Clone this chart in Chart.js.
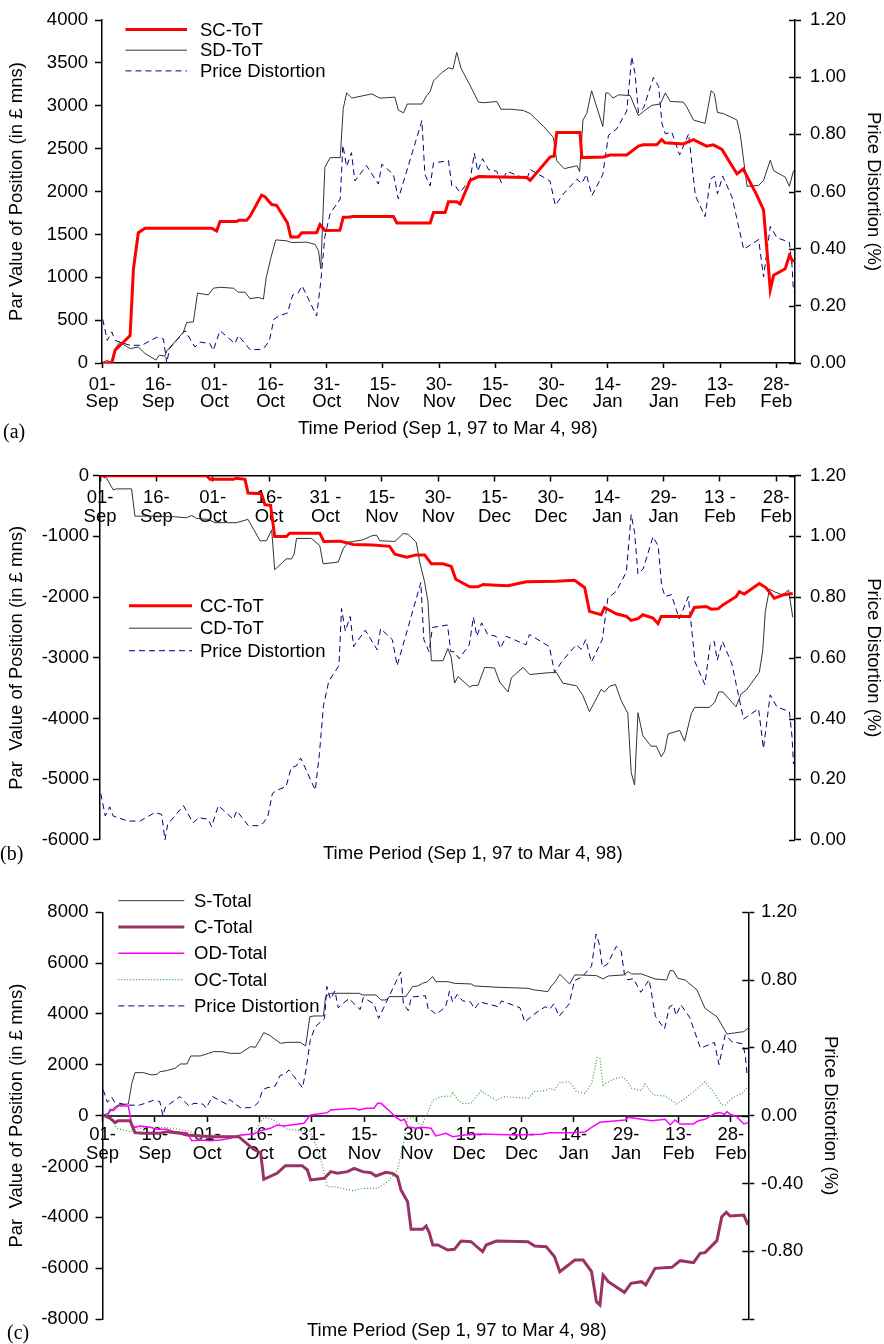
<!DOCTYPE html>
<html>
<head>
<meta charset="utf-8">
<script src="https://cdn.jsdelivr.net/npm/chart.js@4.4.0/dist/chart.umd.min.js"></script>
<style>
body { margin: 0; background: #fff; }
#wrap { position: relative; width: 884px; height: 1344px; font-family: 'Liberation Sans', Arial, sans-serif; }
canvas { position: absolute; left: 0; }
.t { position: absolute; font-size: 18.5px; line-height: 1; white-space: pre; }
.p { position: absolute; font-family: 'Liberation Serif', 'Times New Roman', serif; font-size: 20px; line-height: 1; }
</style>
</head>
<body>
<div id="wrap">
  <canvas id="chartA" width="884" height="420" style="top:0"></canvas>
  <canvas id="chartB" width="884" height="420" style="top:440px"></canvas>
  <canvas id="chartC" width="884" height="464" style="top:880px"></canvas>
  <div class="p" style="left:3px;top:421px">(a)</div>
  <div class="t" style="left:298px;top:419px">Time Period (Sep 1, 97 to Mar 4, 98)</div>
  <div class="p" style="left:0px;top:843px">(b)</div>
  <div class="t" style="left:323px;top:844px">Time Period (Sep 1, 97 to Mar 4, 98)</div>
  <div class="p" style="left:7px;top:1322px">(c)</div>
  <div class="t" style="left:307px;top:1321px">Time Period (Sep 1, 97 to Mar 4, 98)</div>
</div>
<script>
// x = day number, 0 = 01 Sep 97 ... 184 = 04 Mar 98
const tickDays = [0, 15, 30, 45, 60, 75, 90, 105, 120, 135, 150, 165, 180];
const tickLabelsA = [['01-','Sep'],['16-','Sep'],['01-','Oct'],['16-','Oct'],['31-','Oct'],['15-','Nov'],['30-','Nov'],
  ['15-','Dec'],['30-','Dec'],['14-','Jan'],['29-','Jan'],['13-','Feb'],['28-','Feb']];
const tickLabelsB = [['01-','Sep'],['16-','Sep'],['01-','Oct'],['16-','Oct'],['31 -','Oct'],['15-','Nov'],['30-','Nov'],
  ['15-','Dec'],['30-','Dec'],['14-','Jan'],['29-','Jan'],['13 -','Feb'],['28-','Feb']];
const tickLabelsC = tickLabelsA;

const leftTicksA = [0, 500, 1000, 1500, 2000, 2500, 3000, 3500, 4000];
const leftTicksB = [-6000, -5000, -4000, -3000, -2000, -1000, 0];
const leftTicksC = [-8000, -6000, -4000, -2000, 0, 2000, 4000, 6000, 8000];
const priceTicksAB = [0, 0.2, 0.4, 0.6, 0.8, 1.0, 1.2];
const priceTicksC = [-1.2, -0.8, -0.4, 0, 0.4, 0.8, 1.2];

// [day, %]
const priceDistortion = [[0.2,0.153],[1.4,0.079],[2.6,0.109],[3.5,0.079],[4.8,0.073],[7.5,0.062],[10.6,0.062],[14.6,0.090],
  [16.4,0.084],[17.3,0.0],[18,0.050],[19.9,0.079],[22.2,0.113],[24.8,0.056],[26.2,0.073],[28.8,0.068],[29.7,0.044],
  [31.5,0.113],[35.5,0.068],[36.4,0.096],[39.5,0.047],[42.2,0.047],[43.5,0.056],[44.7,0.079],[45.9,0.153],[47.1,0.164],
  [49.5,0.175],[50.9,0.238],[52.3,0.244],[53.4,0.270],[54.6,0.238],[57.3,0.164],[58.4,0.284],[59.5,0.443],[60.9,0.523],
  [63.6,0.574],[64.3,0.762],[65.3,0.688],[66.6,0.736],[67.5,0.637],[70.6,0.691],[73.8,0.626],[74.7,0.696],[77.8,0.660],
  [79.1,0.574],[85.4,0.848],[86.2,0.660],[87.6,0.620],[88.5,0.700],[92.5,0.708],[93.4,0.620],[94.3,0.620],[95.6,0.597],
  [98.3,0.643],[99.4,0.734],[100.3,0.671],[101.6,0.715],[103.2,0.677],[105.4,0.671],[106.6,0.631],[108.1,0.671],
  [113.4,0.643],[114.3,0.677],[119.6,0.637],[121,0.552],[123.2,0.592],[126.8,0.643],[128.1,0.628],[129.3,0.660],
  [130.8,0.586],[133.7,0.660],[135.2,0.797],[137.4,0.819],[140.1,0.882],[141.4,1.072],[142.3,1.013],[143.2,0.876],
  [144.6,0.893],[147.2,0.999],[148.6,0.968],[149.5,0.837],[150.4,0.802],[152.1,0.808],[154.2,0.728],[156.6,0.802],
  [158.4,0.586],[161,0.512],[162.4,0.643],[163.5,0.654],[164.3,0.592],[165.7,0.654],[168.2,0.580],[171.3,0.398],
  [175.3,0.432],[176.6,0.301],[178.4,0.478],[180.2,0.438],[183.5,0.423],[184.2,0.341],[184.6,0.250]];

// [day, £ mns]
const scToT = [[0,0],[2.6,0],[3.5,149],[7.5,320],[8.4,1100],[9.7,1520],[11.5,1573],[29.3,1573],[30.6,1540],[31.5,1650],
  [36,1650],[36.5,1665],[38.6,1665],[39.5,1710],[42.6,1958],[43.5,1940],[45.3,1848],[46.6,1840],[49.5,1634],[50.4,1470],
  [52.4,1470],[53.3,1520],[57.3,1520],[58.2,1615],[59.5,1545],[63.5,1547],[64.4,1700],[65.8,1700],[67.1,1710],[77.8,1710],
  [78.7,1634],[87.6,1634],[88.5,1756],[91.6,1756],[92.5,1882],[94.7,1882],[95.6,1855],[98.3,2130],[100.5,2175],
  [113.4,2163],[114.3,2130],[119.6,2403],[120.7,2414],[121.4,2690],[127.6,2690],[128.1,2396],[133.9,2404],[135.6,2427],
  [140.1,2427],[143.2,2530],[144.5,2545],[148.1,2545],[149.4,2606],[150.3,2568],[155.2,2556],[157.9,2606],[161.4,2530],
  [163.2,2545],[165.5,2491],[169.5,2206],[171.2,2263],[174.8,1958],[176.6,1786],[178.4,853],[179.3,1025],[182.4,1100],
  [183.5,1253],[184.6,1177]];

const sdToT = [[0.2,0],[1.2,30],[2.6,10],[3.5,168],[4.8,243],[7.5,168],[9.7,186],[11.5,110],[14.4,34],[15.3,91],[16.8,80],
  [17.3,141],[21.7,358],[22.6,472],[24.4,480],[25.5,815],[28.4,795],[29.7,872],[31.5,884],[35.1,872],[36.4,826],[38.2,826],
  [39.5,750],[41.7,765],[43.1,746],[43.8,986],[45,1215],[46.4,1436],[49.3,1425],[50.6,1405],[54.7,1410],[56.9,1383],
  [57.8,1310],[58.4,1100],[59.5,2282],[60.9,2396],[63.6,2396],[64.4,2968],[65.3,3150],[66.7,3090],[72,3139],[74.2,3090],
  [78.2,3101],[79.1,2950],[80.5,2918],[81.5,3021],[85.4,3021],[86.7,3120],[87.6,3166],[88.5,3291],[90.7,3387],[92.5,3443],
  [93.7,3430],[94.7,3623],[95.8,3443],[98.3,3234],[100.5,3043],[101.8,3036],[105.4,3050],[106.5,2960],[109.4,2960],
  [112.5,2945],[114.3,2910],[117.9,2758],[120.5,2632],[121.4,2358],[123.4,2267],[126.8,2301],[127.5,2232],[128.4,2834],
  [129.4,2910],[130.7,3177],[133.7,2758],[134.5,3150],[135.2,3150],[136.4,3090],[137.9,3128],[141,3120],[143.2,2885],
  [144.6,2937],[146.8,3006],[149,3021],[150.4,3150],[151.7,3051],[155.2,3043],[156.1,2987],[157.9,2834],[161,2796],
  [162.6,3177],[163.5,3139],[164.3,2922],[165.9,2910],[169.5,2834],[170.4,2663],[172.2,2061],[175.3,2072],[176.6,2130],
  [178.4,2366],[179.3,2244],[182.4,2168],[183.5,2061],[184.6,2244]];

const ccToT = [[0,0],[28.4,0],[29.3,-60],[35.5,-60],[36.3,-43],[38.6,-60],[39.4,-287],[43,-298],[43.9,-477],[45.4,-487],
  [46.5,-1002],[49.6,-1002],[50.5,-948],[58.5,-948],[59.6,-1083],[63.8,-1078],[66,-1110],[67.4,-1132],[72.7,-1143],
  [77.1,-1164],[78.5,-1294],[81.6,-1343],[84.2,-1305],[86.4,-1305],[88.2,-1451],[91.3,-1451],[93.5,-1495],[94.7,-1706],
  [98.4,-1830],[100.6,-1830],[102,-1792],[105.5,-1803],[108.6,-1814],[113.5,-1749],[121.5,-1738],[126.3,-1722],
  [129,-1841],[130.3,-2236],[133.4,-2291],[134.3,-2171],[137.4,-2274],[140.1,-2318],[141.4,-2383],[143.2,-2356],
  [144.5,-2291],[147.2,-2345],[148.5,-2437],[149.4,-2318],[157,-2318],[158.2,-2171],[161.4,-2155],[162.7,-2199],
  [164.5,-2193],[165.8,-2128],[169.3,-1993],[170.2,-1911],[171.5,-1949],[175.5,-1776],[177.3,-1847],[179.5,-2020],
  [181.7,-1966],[184.4,-1939]];

const cdToT = [[0,0],[1.8,-43],[3.5,-233],[4.4,-217],[8.4,-217],[9.3,-666],[15.1,-666],[19.9,-677],[23,-693],[24.4,-655],
  [25.7,-704],[28.8,-720],[30.6,-774],[36.3,-774],[39.4,-720],[42.6,-1072],[44.3,-1072],[45.7,-893],[46.5,-1549],
  [49.6,-1370],[51,-1370],[51.7,-1289],[52.3,-1034],[56.3,-1034],[58.5,-1153],[59.4,-1451],[63.4,-1424],[64.7,-1208],
  [66,-1099],[70,-1056],[72.3,-991],[73.6,-980],[74.5,-1072],[78.5,-1083],[80.7,-953],[82,-964],[84.2,-1099],[85.1,-1424],
  [86.4,-1749],[87.3,-2074],[88.2,-3049],[91.3,-3049],[92.6,-2848],[93.5,-2995],[94.4,-3417],[95.3,-3309],[98.4,-3482],
  [99.3,-3455],[100.6,-3455],[102.4,-3157],[105,-3168],[106.4,-3401],[108.6,-3563],[109.5,-3330],[112.6,-3157],
  [114.4,-3276],[119.7,-3244],[121.5,-3244],[123.2,-3417],[126.8,-3460],[128.5,-3617],[130.3,-3888],[133.4,-3520],
  [134.3,-3563],[135.6,-3471],[137.2,-3438],[138.7,-3698],[140.5,-3915],[141.4,-4890],[142.3,-5096],[143.2,-3904],
  [144.5,-4283],[146.7,-4456],[148.1,-4456],[149.4,-4630],[150.3,-4538],[151.2,-4256],[154.3,-4196],[155.6,-4375],
  [157.4,-3915],[158.3,-3817],[162.2,-3817],[163.6,-3736],[164.7,-3563],[165.8,-3563],[169.3,-3807],[170.7,-3590],
  [172,-3536],[175.5,-3238],[176.4,-2886],[177.1,-2236],[178.2,-1868],[179.5,-1911],[181.7,-1966],[183.3,-1884],
  [184.4,-2334]];

const sTotal = [[0.2,26],[1.7,92],[3.1,289],[4.5,420],[7.4,459],[8.4,1272],[9.3,1692],[11.7,1692],[14.1,1600],[15.6,1626],
  [16.5,1731],[18.4,1771],[20.8,1862],[22.3,2033],[24.2,2033],[25.3,2348],[28,2348],[30.4,2452],[31.8,2518],[34.2,2518],
  [36.6,2452],[39.5,2452],[42.4,2715],[43.8,2689],[45.3,3043],[46.2,3266],[47.7,3174],[51,2846],[52.9,2885],[56.7,2885],
  [58.2,2741],[59.4,3895],[60.6,3921],[63.3,3921],[63.9,4682],[65.4,4813],[73.5,4813],[74.5,4748],[78.3,4748],[79.8,4551],
  [81.2,4551],[82.1,4682],[86.9,4682],[88.8,5076],[90.3,5102],[91.7,5207],[93.1,5272],[94.6,5469],[95.5,5272],[98.9,5272],
  [100.8,5207],[105.6,5180],[106.6,5102],[113.3,5049],[121.9,5010],[123.8,4944],[127.6,4879],[128.6,5102],[129.7,5272],
  [131,5561],[133.8,5180],[135.3,5535],[136.7,5535],[141.5,5508],[143.4,5377],[144.9,5495],[149.2,5535],[150.6,5666],
  [151.6,5574],[154.4,5574],[158.3,5377],[161.6,5338],[162.6,5705],[163.5,5705],[164.8,5403],[166.9,5338],[170.3,4944],
  [172.6,4223],[176,3895],[178.9,3213],[183.7,3305],[184.9,3436]];

const cTotal = [[0.2,26],[2.2,-105],[3.6,-275],[4.5,-197],[7.9,-197],[9.3,-669],[11.7,-695],[16.5,-695],[18.4,-630],
  [22.3,-695],[24.2,-761],[28,-800],[31.8,-826],[39,-826],[43.3,-1325],[45.3,-1456],[46.2,-2505],[50,-2269],[52.4,-1967],
  [57.2,-1967],[58.7,-2138],[59.6,-2531],[63.5,-2466],[65.4,-2203],[67.3,-2269],[70.2,-2203],[72.1,-2072],[74.5,-2203],
  [76.9,-2243],[78.3,-2374],[81.2,-2230],[83.1,-2269],[84.5,-2400],[85.5,-2925],[87.4,-3384],[88.4,-4472],[91.7,-4472],
  [92.7,-4341],[93.6,-4603],[94.6,-5089],[96.1,-5089],[98.9,-5285],[100.8,-5259],[102.7,-4931],[105.6,-4957],[107,-5128],
  [108.9,-5351],[109.9,-5089],[112.8,-4931],[121.9,-4957],[123.8,-5128],[127.1,-5154],[129.5,-5548],[131,-6138],
  [135.3,-5679],[137.7,-5679],[140.1,-6138],[141.5,-7318],[142.5,-7449],[143.4,-6269],[144.9,-6531],[149.5,-6951],
  [151.4,-6597],[154.4,-6531],[155.6,-6662],[158.3,-6007],[163.1,-5967],[165.5,-5705],[169.3,-5784],[171.2,-5416],
  [172.6,-5390],[176,-4918],[177.4,-3974],[178.7,-3803],[179.8,-3948],[183.7,-3908],[184.9,-4302]];

const odTotal = [[0.2,26],[1.2,-66],[2.2,249],[3.1,197],[4.5,380],[7.4,380],[8.4,-367],[9.3,-459],[10.8,-407],[13.7,-459],
  [15.6,-538],[18.4,-538],[20.4,-630],[24.2,-669],[25.6,-984],[28,-957],[30.9,-984],[33.8,-957],[36.6,-892],[39.5,-761],
  [43.3,-721],[45.3,-590],[48.1,-498],[50,-367],[52,-407],[53.9,-367],[56.3,-328],[57.7,-302],[59.6,26],[64.4,118],
  [65.4,223],[68.3,249],[72.1,289],[73.5,223],[75.4,289],[77.8,289],[78.8,485],[79.8,485],[81.7,249],[84.1,-66],
  [85.5,-197],[86.5,-144],[87.4,-433],[89.8,-498],[91.7,-459],[94.1,-498],[95.5,-800],[98.4,-695],[100.3,-826],
  [103.7,-761],[108.5,-721],[118,-761],[125.7,-734],[128.1,-669],[134.3,-669],[138.2,-643],[140.1,-459],[142.5,-262],
  [145.8,-223],[149.7,-170],[150.6,-66],[154,-131],[157.3,-197],[161.2,-144],[162.6,-367],[164,-170],[165.5,-328],
  [169.3,-328],[170.7,-197],[172.6,-144],[175.5,92],[176.9,118],[178.2,52],[178.9,157],[179.8,52],[181.7,-39],
  [183.7,-328],[184.9,-275]];

const ocTotal = [[0.2,26],[2.2,-39],[4.1,-498],[8,-630],[11.7,-459],[16.5,-459],[20.4,-498],[24.2,-590],[28,-761],
  [31.8,-761],[36.6,-800],[40.5,-761],[43.3,-695],[45.7,-144],[46.7,-66],[49.1,-170],[52.9,-538],[57.2,-590],[59.2,-564],
  [62,-1416],[64.4,-2793],[66.3,-2793],[71.6,-2951],[74.5,-2859],[78.8,-2859],[81.7,-2597],[84.5,-2138],[86.4,-957],
  [87.4,-105],[89.3,-66],[91.2,-433],[93.1,92],[94.6,590],[96.9,748],[99.9,774],[100.3,944],[101.8,616],[103.2,485],
  [105.6,485],[108.5,984],[110.9,748],[112.8,616],[115.2,748],[121.9,682],[123.8,944],[126.7,984],[128.1,1075],
  [129.5,1010],[131,1298],[133.8,1338],[135.8,944],[138.2,879],[140.1,1246],[141.7,2295],[142.5,2250],[143.4,1207],
  [145.8,1403],[148.7,1534],[150.1,1403],[151.6,1075],[154.4,984],[155.4,1246],[157.8,813],[161.2,774],[164.5,459],
  [166.9,682],[169.8,984],[172.6,1338],[175,944],[177.4,420],[178.4,420],[180.3,682],[183.2,879],[184.9,1141]];

const FONT = "'Liberation Sans', Arial, sans-serif";
Chart.defaults.font.family = FONT;
Chart.defaults.font.size = 18.5;
Chart.defaults.color = '#000';

// legend drawn as rows of line samples, inside the plot
const lineLegend = {
  id: 'lineLegend',
  afterDraw(chart, args, o) {
    const ctx = chart.ctx;
    ctx.save();
    chart.data.datasets.forEach((ds, i) => {
      const y = o.y + i * o.rowH;
      ctx.strokeStyle = ds.borderColor;
      ctx.lineWidth = ds.borderWidth;
      ctx.setLineDash(ds.borderDash || []);
      ctx.beginPath();
      ctx.moveTo(o.x, y);
      ctx.lineTo(o.x + o.w, y);
      ctx.stroke();
      ctx.setLineDash([]);
      ctx.fillStyle = '#000';
      ctx.font = '18.5px ' + FONT;
      ctx.textBaseline = 'middle';
      ctx.fillText(ds.label, o.x + o.w + o.gap, y + 1);
    });
    ctx.restore();
  }
};

// the right axis ticks also poke a little into the plot
const innerTicks = {
  id: 'innerTicks',
  afterDraw(chart) {
    const sc = chart.scales.y1;
    const ctx = chart.ctx;
    ctx.save();
    ctx.strokeStyle = '#000';
    ctx.lineWidth = 1.5;
    sc.ticks.forEach(t => {
      const y = Math.round(sc.getPixelForValue(t.value)) + 0.5;
      ctx.beginPath();
      ctx.moveTo(sc.left - 6, y);
      ctx.lineTo(sc.left, y);
      ctx.stroke();
    });
    ctx.restore();
  }
};

function fixedTicks(values) {
  return scale => { scale.ticks = values.map(v => ({ value: v })); };
}

function line(label, pts, color, width, dash, axis) {
  return {
    label: label,
    data: pts.map(p => ({ x: p[0], y: p[1] })),
    borderColor: color,
    borderWidth: width,
    borderDash: dash || [],
    yAxisID: axis || 'y',
    pointRadius: 0,
    fill: false,
    tension: 0
  };
}

const axisLine = { display: true, color: '#000', width: 1.5 };

function xScale(labels, pos, height, pad, lh, borderColor, borderWidth) {
  const s = {
    type: 'linear', min: 0, max: 185, bounds: 'data', position: pos,
    afterBuildTicks: fixedTicks(tickDays),
    ticks: { autoSkip: false, maxRotation: 0, minRotation: 0, padding: pad, font: { size: 18.5, lineHeight: lh },
      callback: v => labels[tickDays.indexOf(v)] },
    grid: { drawOnChartArea: false, drawTicks: true, tickLength: 5, tickColor: '#000', tickWidth: 1.5 },
    border: { display: true, color: borderColor, width: borderWidth }
  };
  if (height) s.afterFit = sc => { sc.height = height; };
  return s;
}

function yLeft(min, max, ticks, width, pad, title, titlePad) {
  return {
    type: 'linear', position: 'left', min: min, max: max, bounds: 'data',
    afterBuildTicks: fixedTicks(ticks),
    afterFit: sc => { sc.width = width; },
    ticks: { padding: pad, callback: v => String(v) },
    grid: { drawOnChartArea: false, tickLength: 7, tickColor: '#000', tickWidth: 1.5 },
    border: axisLine,
    title: { display: true, text: title, padding: { top: titlePad, bottom: 0 }, font: { size: 18.5 } }
  };
}

function yRight(min, max, ticks, width, pad, titlePad) {
  return {
    type: 'linear', position: 'right', min: min, max: max, bounds: 'data',
    afterBuildTicks: fixedTicks(ticks),
    afterFit: sc => { sc.width = width; },
    ticks: { padding: pad, callback: v => (Math.abs(v + 1.2) < 1e-9 ? '' : v.toFixed(2)) },
    grid: { drawOnChartArea: false, tickLength: 6, tickColor: '#000', tickWidth: 1.5 },
    border: axisLine,
    title: { display: true, text: 'Price Distortion (%)', padding: { top: titlePad, bottom: 0 }, font: { size: 18.5 } }
  };
}

const PD_COLOR = '#000080';

new Chart(document.getElementById('chartA'), {
  type: 'line',
  data: {
    datasets: [
      line('SC-ToT', scToT, '#ff0000', 3),
      line('SD-ToT', sdToT, '#333333', 1),
      line('Price Distortion', priceDistortion, PD_COLOR, 1, [6, 4], 'y1')
    ]
  },
  options: {
    responsive: false, animation: false, devicePixelRatio: 1,
    layout: { padding: { top: 13, left: 0, right: 0, bottom: 0 } },
    plugins: { legend: { display: false }, tooltip: { enabled: false },
      lineLegend: { x: 125.5, y: 29.5, rowH: 20.7, w: 61.5, gap: 13 } },
    scales: {
      x: xScale(tickLabelsA, 'bottom', 57, 8.7, 0.9, '#000', 1.5),
      y: yLeft(0, 4000, leftTicksA, 102, 7, 'Par Value of Position (in £ mns)', 5.4),
      y1: yRight(0, 1.2, priceTicksAB, 89, 9, 0)
    }
  },
  plugins: [lineLegend, innerTicks]
});

new Chart(document.getElementById('chartB'), {
  type: 'line',
  data: {
    datasets: [
      line('CC-ToT', ccToT, '#ff0000', 3),
      line('CD-ToT', cdToT, '#333333', 1),
      line('Price Distortion', priceDistortion, PD_COLOR, 1, [6, 4], 'y1')
    ]
  },
  options: {
    responsive: false, animation: false, devicePixelRatio: 1,
    layout: { padding: { top: 35.7, left: 0, right: 0, bottom: 15 } },
    plugins: { legend: { display: false }, tooltip: { enabled: false },
      lineLegend: { x: 129, y: 165.7, rowH: 22.5, w: 63, gap: 8 } },
    scales: {
      x: xScale(tickLabelsB, { y: 0 }, 0, 7, 1.05, '#000', 1.5),
      y: yLeft(-6000, 0, leftTicksB, 100, 4, 'Par  Value of Position (in £ mns)', 5.4),
      y1: yRight(0, 1.2, priceTicksAB, 89, 9, 0)
    }
  },
  plugins: [lineLegend, innerTicks]
});

new Chart(document.getElementById('chartC'), {
  type: 'line',
  data: {
    datasets: [
      line('S-Total', sTotal, '#333333', 1),
      line('C-Total', cTotal, '#993366', 3),
      line('OD-Total', odTotal, '#ff00ff', 1.5),
      line('OC-Total', ocTotal, '#33a333', 1.2, [1, 2]),
      line('Price Distortion', priceDistortion, PD_COLOR, 1, [6, 4], 'y1')
    ]
  },
  options: {
    responsive: false, animation: false, devicePixelRatio: 1,
    layout: { padding: { top: 32.3, left: 0, right: 0, bottom: 25 } },
    plugins: { legend: { display: false }, tooltip: { enabled: false },
      lineLegend: { x: 118.3, y: 20.7, rowH: 26.3, w: 66, gap: 9.7 } },
    scales: {
      x: xScale(tickLabelsC, { y: 0 }, 0, 5, 1.03, '#333', 2),
      y: yLeft(-8000, 8000, leftTicksC, 102.5, 7, 'Par  Value of Position (in £ mns)', 5.4),
      y1: yRight(-1.2, 1.2, priceTicksC, 135.7, 6.7, 43)
    }
  },
  plugins: [lineLegend, innerTicks]
});
</script>
</body>
</html>
